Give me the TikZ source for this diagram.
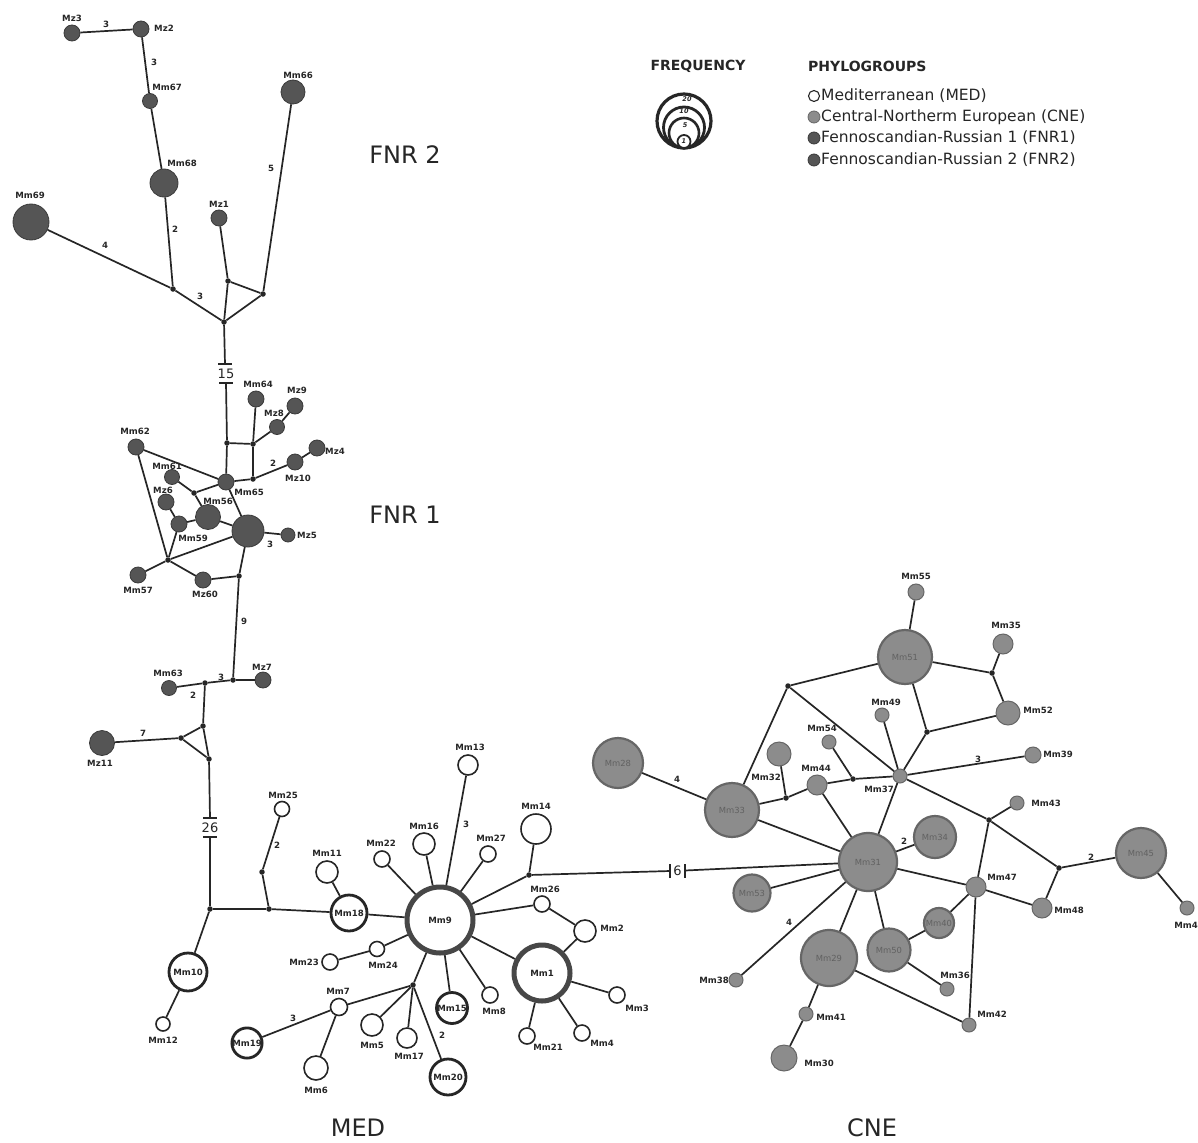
\documentclass[tikz,border=0pt]{standalone}
\usepackage{fontspec}
\setmainfont{DejaVu Sans}
\definecolor{fnrfill}{HTML}{555555}
\definecolor{fnrdraw}{HTML}{3A3A3A}
\definecolor{cnefill}{HTML}{8C8C8C}
\definecolor{cnedraw}{HTML}{666666}
\definecolor{ink}{HTML}{262626}
\newcommand{\lbf}{\fontsize{8.6}{10}\selectfont\bfseries}
\newcommand{\innf}{\fontsize{8.4}{10}\selectfont}
\newcommand{\elf}{\fontsize{8.6}{10}\selectfont\bfseries}
\tikzset{
  hap/.style={circle, inner sep=0pt, minimum size=#1},
  med/.style={hap=#1, draw=ink, fill=white, line width=1.6pt, font=\lbf, text=ink},
  medT/.style={hap=#1, draw=ink, fill=white, line width=2.8pt, font=\lbf, text=ink},
  medX/.style={hap=#1, draw=ink!85, fill=white, line width=5pt, font=\lbf, text=ink},
  cne/.style={hap=#1, draw=cnedraw, fill=cnefill, line width=1pt},
  cneB/.style={hap=#1, draw=cnedraw, fill=cnefill, line width=2.2pt, font=\innf, text=black!62},
  fnr/.style={hap=#1, draw=fnrdraw, fill=fnrfill, line width=0.8pt},
  jn/.style={circle, fill=ink, inner sep=0pt, minimum size=5.5pt},
  lbl/.style={font=\lbf, text=ink, inner sep=0pt},
  el/.style={font=\elf, text=ink, inner sep=0pt},
  edge/.style={draw=ink, line width=1.7pt},
  big/.style={font=\fontsize{24}{28}\selectfont, text=black!85, inner sep=0pt},
  brk/.style={font=\fontsize{13}{15}\selectfont, text=ink, inner sep=0pt},
  legt/.style={font=\fontsize{15.5}{18}\selectfont, text=black!85, anchor=west, inner sep=0pt},
  legh/.style={font=\fontsize{14}{16}\selectfont\bfseries, text=black!85, inner sep=0pt},
  frq/.style={font=\fontsize{6.5}{7}\selectfont\itshape\bfseries, text=ink, inner sep=0pt},
}
\begin{document}
\begin{tikzpicture}[x=1pt,y=-1pt]
\useasboundingbox (0,0) rectangle (1198,1142);
\fill[white] (0,0) rectangle (1198,1142);

% ---------------- FNR 2 ----------------
\node[fnr=16] (Mz3) at (72,33) {};
\node[fnr=16] (Mz2) at (141,29) {};
\node[fnr=15] (Mm67) at (150,101) {};
\node[fnr=28] (Mm68) at (164,183) {};
\node[fnr=36] (Mm69) at (31,222) {};
\node[fnr=24] (Mm66) at (293,92) {};
\node[fnr=16] (Mz1) at (219,218) {};
\node[jn] (j1) at (173,289) {};
\node[jn] (j2) at (224,322) {};
\node[jn] (j3) at (228,281) {};
\node[jn] (j4) at (263,294) {};
\node[lbl] (lMz3) at (72,18) {Mz3};
\node[lbl] (lMz2) at (164,28) {Mz2};
\node[lbl] (lMm67) at (167,87) {Mm67};
\node[lbl] (lMm68) at (182,163) {Mm68};
\node[lbl] (lMm69) at (30,195) {Mm69};
\node[lbl] (lMm66) at (298,75) {Mm66};
\node[lbl] (lMz1) at (219,204) {Mz1};
\draw[edge] (Mz3) -- (Mz2);
\draw[edge] (Mz2) -- (Mm67);
\draw[edge] (Mm67) -- (Mm68);
\draw[edge] (Mm68) -- (j1);
\draw[edge] (Mm69) -- (j1);
\draw[edge] (j1) -- (j2);
\draw[edge] (Mz1) -- (j3);
\draw[edge] (j3) -- (j2);
\draw[edge] (j3) -- (j4);
\draw[edge] (j4) -- (j2);
\draw[edge] (Mm66) -- (j4);
\node[el] (e1) at (106,24) {3};
\node[el] (e2) at (154,62) {3};
\node[el] (e3) at (105,245) {4};
\node[el] (e4) at (175,229) {2};
\node[el] (e5) at (200,296) {3};
\node[el] (e6) at (271,168) {5};

% break 15
\coordinate (b15a) at (225,364);
\coordinate (b15b) at (226,383);
\draw[edge] (j2) -- (b15a);
\draw[edge] ([xshift=-7pt]b15a) -- ([xshift=7pt]b15a);
\draw[edge] ([xshift=-7pt]b15b) -- ([xshift=7pt]b15b);
\node[brk] (n15) at (226,373.5) {15};

% ---------------- FNR 1 ----------------
\node[jn] (jA) at (227,443) {};
\node[jn] (jB) at (253,444) {};
\node[fnr=16] (Mm64) at (256,399) {};
\node[fnr=15] (Mz8) at (277,427) {};
\node[fnr=16] (Mz9) at (295,406) {};
\node[fnr=16] (Mm65) at (226,482) {};
\node[jn] (jC) at (253,479) {};
\node[fnr=16] (Mz10) at (295,462) {};
\node[fnr=16] (Mz4) at (317,448) {};
\node[fnr=16] (Mm62) at (136,447) {};
\node[fnr=15] (Mm61) at (172,477) {};
\node[jn] (jD) at (194,493) {};
\node[fnr=16] (Mz6) at (166,502) {};
\node[fnr=25] (Mm56) at (208,517) {};
\node[fnr=16] (Mm59) at (179,524) {};
\node[fnr=32] (Bg) at (248,531) {};
\node[fnr=14] (Mz5) at (288,535) {};
\node[jn] (jE) at (168,560) {};
\node[fnr=16] (Mm57) at (138,575) {};
\node[fnr=16] (Mz60) at (203,580) {};
\node[jn] (jF) at (239,576) {};
\node[lbl] (lMm64) at (258,384) {Mm64};
\node[lbl] (lMz8) at (274,413) {Mz8};
\node[lbl] (lMz9) at (297,390) {Mz9};
\node[lbl] (lMm65) at (249,492) {Mm65};
\node[lbl] (lMz10) at (298,478) {Mz10};
\node[lbl] (lMz4) at (335,451) {Mz4};
\node[lbl] (lMm62) at (135,431) {Mm62};
\node[lbl] (lMm61) at (167,466) {Mm61};
\node[lbl] (lMz6) at (163,490) {Mz6};
\node[lbl] (lMm56) at (218,501) {Mm56};
\node[lbl] (lMm59) at (193,538) {Mm59};
\node[lbl] (lMz5) at (307,535) {Mz5};
\node[lbl] (lMm57) at (138,590) {Mm57};
\node[lbl] (lMz60) at (205,594) {Mz60};
\draw[edge] (b15b) -- (jA);
\draw[edge] (jA) -- (Mm65);
\draw[edge] (jA) -- (jB);
\draw[edge] (jB) -- (Mm64);
\draw[edge] (jB) -- (Mz8);
\draw[edge] (Mz8) -- (Mz9);
\draw[edge] (jB) -- (jC);
\draw[edge] (Mm65) -- (jC);
\draw[edge] (jC) -- (Mz10);
\draw[edge] (Mz10) -- (Mz4);
\draw[edge] (Mm62) -- (Mm65);
\draw[edge] (Mm62) -- (jE);
\draw[edge] (Mm61) -- (jD);
\draw[edge] (jD) -- (Mm65);
\draw[edge] (jD) -- (Mm56);
\draw[edge] (Mm56) -- (Bg);
\draw[edge] (Mm65) -- (Bg);
\draw[edge] (Mz6) -- (Mm59);
\draw[edge] (Mm59) -- (Mm56);
\draw[edge] (Mm59) -- (jE);
\draw[edge] (jE) -- (Bg);
\draw[edge] (jE) -- (Mm57);
\draw[edge] (jE) -- (Mz60);
\draw[edge] (Mz60) -- (jF);
\draw[edge] (jF) -- (Bg);
\draw[edge] (Bg) -- (Mz5);
\node[el] (e7) at (273,463) {2};
\node[el] (e8) at (270,544) {3};

% ---------------- middle ----------------
\node[jn] (jG) at (233,680) {};
\node[fnr=16] (Mz7) at (263,680) {};
\node[jn] (jH) at (205,683) {};
\node[fnr=15] (Mm63) at (169,688) {};
\node[jn] (jI) at (203,726) {};
\node[jn] (jJ) at (181,738) {};
\node[jn] (jK) at (209,759) {};
\node[fnr=25] (Mz11) at (102,743) {};
\node[lbl] (lMz7) at (262,667) {Mz7};
\node[lbl] (lMm63) at (168,673) {Mm63};
\node[lbl] (lMz11) at (100,763) {Mz11};
\draw[edge] (jF) -- (jG);
\draw[edge] (jG) -- (Mz7);
\draw[edge] (jG) -- (jH);
\draw[edge] (jH) -- (Mm63);
\draw[edge] (jH) -- (jI);
\draw[edge] (jI) -- (jJ);
\draw[edge] (jI) -- (jK);
\draw[edge] (jJ) -- (jK);
\draw[edge] (jJ) -- (Mz11);
\node[el] (e9) at (244,621) {9};
\node[el] (e10) at (221,677) {3};
\node[el] (e11) at (193,695) {2};
\node[el] (e12) at (143,733) {7};

% break 26
\coordinate (b26a) at (210,818);
\coordinate (b26b) at (210,837);
\draw[edge] (jK) -- (b26a);
\draw[edge] ([xshift=-7pt]b26a) -- ([xshift=7pt]b26a);
\draw[edge] ([xshift=-7pt]b26b) -- ([xshift=7pt]b26b);
\node[brk] (n26) at (210,827.5) {26};

% ---------------- MED ----------------
\node[jn] (jL) at (210,909) {};
\node[jn] (jM) at (269,909) {};
\node[jn] (jN) at (262,872) {};
\node[med=15] (Mm25) at (282,809) {};
\node[medT=36] (Mm18) at (349,913) {Mm18};
\node[med=22] (Mm11) at (327,872) {};
\node[med=16] (Mm22) at (382,859) {};
\node[med=22] (Mm16) at (424,844) {};
\node[medX=66] (Mm9) at (440,920) {Mm9};
\node[medT=38] (Mm10) at (188,972) {Mm10};
\node[med=14] (Mm12) at (163,1024) {};
\node[med=15] (Mm24) at (377,949) {};
\node[med=16] (Mm23) at (330,962) {};
\node[jn] (jO) at (413,985) {};
\node[med=17] (Mm7) at (339,1007) {};
\node[medT=29] (Mm19) at (247,1043) {Mm19};
\node[med=24] (Mm6) at (316,1068) {};
\node[med=22] (Mm5) at (372,1025) {};
\node[med=20] (Mm17) at (407,1038) {};
\node[medT=36] (Mm20) at (448,1077) {Mm20};
\node[medT=31] (Mm15) at (452,1008) {Mm15};
\node[med=20] (Mm13) at (468,765) {};
\node[med=16] (Mm27) at (488,854) {};
\node[med=30] (Mm14) at (536,829) {};
\node[jn] (jP) at (529,875) {};
\node[med=16] (Mm26) at (542,904) {};
\node[med=22] (Mm2) at (585,931) {};
\node[medX=56] (Mm1) at (542,973) {Mm1};
\node[med=16] (Mm3) at (617,995) {};
\node[med=16] (Mm4) at (582,1033) {};
\node[med=16] (Mm21) at (527,1036) {};
\node[med=16] (Mm8) at (490,995) {};
\node[lbl] (lMm25) at (283,795) {Mm25};
\node[lbl] (lMm11) at (327,853) {Mm11};
\node[lbl] (lMm22) at (381,843) {Mm22};
\node[lbl] (lMm16) at (424,826) {Mm16};
\node[lbl] (lMm12) at (163,1040) {Mm12};
\node[lbl] (lMm24) at (383,965) {Mm24};
\node[lbl] (lMm23) at (304,962) {Mm23};
\node[lbl] (lMm7) at (338,991) {Mm7};
\node[lbl] (lMm6) at (316,1090) {Mm6};
\node[lbl] (lMm5) at (372,1045) {Mm5};
\node[lbl] (lMm17) at (409,1056) {Mm17};
\node[lbl] (lMm13) at (470,747) {Mm13};
\node[lbl] (lMm27) at (491,838) {Mm27};
\node[lbl] (lMm14) at (536,806) {Mm14};
\node[lbl] (lMm26) at (545,889) {Mm26};
\node[lbl] (lMm2) at (612,928) {Mm2};
\node[lbl] (lMm3) at (637,1008) {Mm3};
\node[lbl] (lMm4) at (602,1043) {Mm4};
\node[lbl] (lMm21) at (548,1047) {Mm21};
\node[lbl] (lMm8) at (494,1011) {Mm8};
\draw[edge] (b26b) -- (jL);
\draw[edge] (jL) -- (jM);
\draw[edge] (jL) -- (Mm10);
\draw[edge] (Mm10) -- (Mm12);
\draw[edge] (jM) -- (jN);
\draw[edge] (jN) -- (Mm25);
\draw[edge] (jM) -- (Mm18);
\draw[edge] (Mm18) -- (Mm11);
\draw[edge] (Mm18) -- (Mm9);
\draw[edge] (Mm9) -- (Mm22);
\draw[edge] (Mm9) -- (Mm16);
\draw[edge] (Mm9) -- (Mm13);
\draw[edge] (Mm9) -- (Mm27);
\draw[edge] (Mm9) -- (jP);
\draw[edge] (jP) -- (Mm14);
\draw[edge] (Mm9) -- (Mm26);
\draw[edge] (Mm26) -- (Mm2);
\draw[edge] (Mm2) -- (Mm1);
\draw[edge] (Mm9) -- (Mm1);
\draw[edge] (Mm9) -- (Mm8);
\draw[edge] (Mm9) -- (Mm15);
\draw[edge] (Mm9) -- (jO);
\draw[edge] (Mm9) -- (Mm24);
\draw[edge] (Mm24) -- (Mm23);
\draw[edge] (jO) -- (Mm7);
\draw[edge] (Mm7) -- (Mm19);
\draw[edge] (Mm7) -- (Mm6);
\draw[edge] (jO) -- (Mm5);
\draw[edge] (jO) -- (Mm17);
\draw[edge] (jO) -- (Mm20);
\draw[edge] (Mm1) -- (Mm3);
\draw[edge] (Mm1) -- (Mm4);
\draw[edge] (Mm1) -- (Mm21);
\node[el] (e13) at (277,845) {2};
\node[el] (e14) at (466,824) {3};
\node[el] (e15) at (293,1018) {3};
\node[el] (e16) at (442,1035) {2};

% ---------------- CNE ----------------
\node[cneB=50] (Mm28) at (618,763) {Mm28};
\node[cne=16] (Mm55) at (916,592) {};
\node[cneB=54] (Mm51) at (905,657) {Mm51};
\node[cne=20] (Mm35) at (1003,644) {};
\node[jn] (jQ) at (992,673) {};
\node[cne=24] (Mm52) at (1008,713) {};
\node[jn] (jR) at (788,686) {};
\node[jn] (jS) at (927,732) {};
\node[cne=14] (Mm49) at (882,715) {};
\node[cne=14] (Mm54) at (829,742) {};
\node[cne=14] (Mm37) at (900,776) {};
\node[jn] (jT) at (853,779) {};
\node[cne=20] (Mm44) at (817,785) {};
\node[jn] (jU) at (786,798) {};
\node[cne=24] (Mm32) at (779,754) {};
\node[cneB=54] (Mm33) at (732,810) {Mm33};
\node[cne=16] (Mm39) at (1033,755) {};
\node[cne=14] (Mm43) at (1017,803) {};
\node[jn] (jV) at (989,820) {};
\node[cneB=58] (Mm31) at (868,862) {Mm31};
\node[cneB=42] (Mm34) at (935,837) {Mm34};
\node[cneB=37] (Mm53) at (752,893) {Mm53};
\node[cneB=56] (Mm29) at (829,958) {Mm29};
\node[cneB=43] (Mm50) at (889,950) {Mm50};
\node[cneB=30] (Mm40) at (939,923) {Mm40};
\node[cne=20] (Mm47) at (976,887) {};
\node[cne=14] (Mm36) at (947,989) {};
\node[cne=14] (Mm42) at (969,1025) {};
\node[cne=20] (Mm48) at (1042,908) {};
\node[jn] (jW) at (1059,868) {};
\node[cneB=50] (Mm45) at (1141,853) {Mm45};
\node[cne=14] (Mm46) at (1187,908) {};
\node[cne=14] (Mm38) at (736,980) {};
\node[cne=14] (Mm41) at (806,1014) {};
\node[cne=26] (Mm30) at (784,1058) {};
\node[lbl] (lMm55) at (916,576) {Mm55};
\node[lbl] (lMm35) at (1006,625) {Mm35};
\node[lbl] (lMm52) at (1038,710) {Mm52};
\node[lbl] (lMm49) at (886,702) {Mm49};
\node[lbl] (lMm54) at (822,728) {Mm54};
\node[lbl] (lMm37) at (879,789) {Mm37};
\node[lbl] (lMm44) at (816,768) {Mm44};
\node[lbl] (lMm32) at (766,777) {Mm32};
\node[lbl] (lMm39) at (1058,754) {Mm39};
\node[lbl] (lMm43) at (1046,803) {Mm43};
\node[lbl] (lMm47) at (1002,877) {Mm47};
\node[lbl] (lMm36) at (955,975) {Mm36};
\node[lbl] (lMm42) at (992,1014) {Mm42};
\node[lbl] (lMm48) at (1069,910) {Mm48};
\node[lbl, anchor=east] (lMm46) at (1198,925) {Mm4};
\node[lbl, anchor=east] (lMm38) at (729,980) {Mm38};
\node[lbl] (lMm41) at (831,1017) {Mm41};
\node[lbl] (lMm30) at (819,1063) {Mm30};
\draw[edge] (Mm55) -- (Mm51);
\draw[edge] (Mm51) -- (jR);
\draw[edge] (Mm51) -- (jQ);
\draw[edge] (jQ) -- (Mm35);
\draw[edge] (jQ) -- (Mm52);
\draw[edge] (Mm51) -- (jS);
\draw[edge] (jS) -- (Mm52);
\draw[edge] (jS) -- (Mm37);
\draw[edge] (jR) -- (Mm37);
\draw[edge] (jR) -- (Mm33);
\draw[edge] (Mm49) -- (Mm37);
\draw[edge] (Mm54) -- (jT);
\draw[edge] (Mm44) -- (jT);
\draw[edge] (jT) -- (Mm37);
\draw[edge] (Mm37) -- (Mm39);
\draw[edge] (Mm37) -- (jV);
\draw[edge] (jV) -- (jW);
\draw[edge] (jV) -- (Mm43);
\draw[edge] (jV) -- (Mm47);
\draw[edge] (Mm47) -- (Mm42);
\draw[edge] (Mm47) -- (Mm48);
\draw[edge] (jW) -- (Mm48);
\draw[edge] (jW) -- (Mm45);
\draw[edge] (Mm45) -- (Mm46);
\draw[edge] (Mm37) -- (Mm31);
\draw[edge] (Mm44) -- (Mm31);
\draw[edge] (Mm44) -- (jU);
\draw[edge] (jU) -- (Mm32);
\draw[edge] (jU) -- (Mm33);
\draw[edge] (Mm33) -- (Mm31);
\draw[edge] (Mm28) -- (Mm33);
\draw[edge] (Mm31) -- (Mm34);
\draw[edge] (Mm31) -- (Mm47);
\draw[edge] (Mm31) -- (Mm53);
\draw[edge] (Mm31) -- (Mm38);
\draw[edge] (Mm31) -- (Mm29);
\draw[edge] (Mm31) -- (Mm50);
\draw[edge] (Mm50) -- (Mm40);
\draw[edge] (Mm40) -- (Mm47);
\draw[edge] (Mm50) -- (Mm36);
\draw[edge] (Mm29) -- (Mm42);
\draw[edge] (Mm29) -- (Mm41);
\draw[edge] (Mm41) -- (Mm30);
\node[el] (e17) at (677,779) {4};
\node[el] (e18) at (978,759) {3};
\node[el] (e19) at (904,841) {2};
\node[el] (e20) at (789,922) {4};
\node[el] (e21) at (1091,857) {2};

% break 6
\coordinate (b6a) at (670,871);
\coordinate (b6b) at (685,870.5);
\draw[edge] (jP) -- (b6a);
\draw[edge] ([yshift=-7pt]b6a) -- ([yshift=7pt]b6a);
\draw[edge] ([yshift=-7pt]b6b) -- ([yshift=7pt]b6b);
\draw[edge] (b6b) -- (Mm31);
\node[brk] (n6) at (677.5,871) {6};

% ---------------- group titles ----------------
\node[big] (tF2) at (405,155) {FNR 2};
\node[big] (tF1) at (405,515) {FNR 1};
\node[big] (tMED) at (358,1128) {MED};
\node[big] (tCNE) at (872,1128) {CNE};

% ---------------- legend ----------------
\node[legh] (hF) at (698,66) {FREQUENCY};
\node[legh, anchor=west] (hP) at (808,66) {PHYLOGROUPS};
\node[hap=54, draw=ink, line width=3.2pt] (f20) at (684,121) {};
\node[hap=41, draw=ink, line width=2.8pt] (f10) at (684,127.5) {};
\node[hap=30, draw=ink, line width=2.6pt] (f5) at (684,133) {};
\node[hap=13, draw=ink, line width=1.8pt, fill=white] (f1) at (684,141.5) {};
\node[frq] (t20) at (687,99) {20};
\node[frq] (t10) at (684,111) {10};
\node[frq] (t5) at (685,125) {5};
\node[frq] (t1) at (684,141.5) {1};
\node[med=11, line width=1.1pt] (lgM) at (814,96) {};
\node[cne=12, line width=0.8pt] (lgC) at (814,117) {};
\node[fnr=12] (lgF1) at (814,138) {};
\node[fnr=12] (lgF2) at (814,160) {};
\node[legt] (tM) at (821,96) {Mediterranean (MED)};
\node[legt] (tC) at (821,117) {Central-Northerm European (CNE)};
\node[legt] (tF1l) at (821,138) {Fennoscandian-Russian 1 (FNR1)};
\node[legt] (tF2l) at (821,160) {Fennoscandian-Russian 2 (FNR2)};
\end{tikzpicture}
\end{document}
